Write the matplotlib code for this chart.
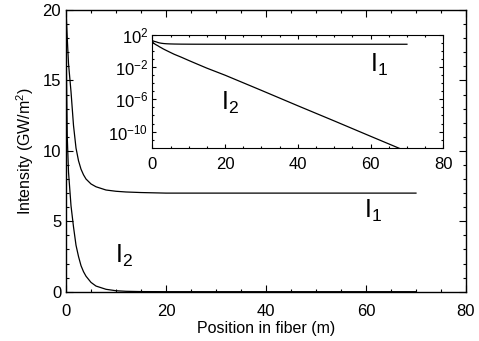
import numpy as np
import matplotlib
matplotlib.use('Agg')
import matplotlib.pyplot as plt
from matplotlib.ticker import MultipleLocator, FixedLocator

plt.rcParams['font.family'] = ['Liberation Sans', 'DejaVu Sans']
plt.rcParams['mathtext.default'] = 'regular'

# Values
position = [0, 0.25, 0.5, 1, 1.5, 2, 2.5, 3, 3.5, 4, 5, 6, 8, 10, 12, 15,
            20, 30, 40, 50, 60, 70]
intensity_1 = [20, 18, 16.2, 14.2, 11.8, 10.2, 9.3, 8.7, 8.3, 8.0, 7.65, 7.45,
               7.22, 7.13, 7.08, 7.04, 7.0, 7.0, 7.0, 7.0, 7.0, 7.0]
intensity_2 = [18, 11, 8.5, 6.1, 4.6, 3.3, 2.5, 1.85, 1.42, 1.1, 0.66, 0.4,
               0.17, 0.068, 0.028, 7.5e-3, 1.0e-3, 1.3e-5, 1.6e-7, 2.1e-9,
               2.6e-11, 3.3e-13]

main_xticks = [0, 20, 40, 60, 80]
main_yticks = [0, 5, 10, 15, 20]
inset_yticks = [1e2, 1e-2, 1e-6, 1e-10]
inset_ylabels = ['10$^{2}$', '10$^{-2}$', '10$^{-6}$', '10$^{-10}$']

W, H = 479, 341
fig = plt.figure(figsize=(W / 100, H / 100), dpi=100)


def px_text(x, y, s):
    # place a label at pixel position (from top-left corner)
    fig.text(x / W, 1 - y / H, s, fontsize=18, ha='left', va='baseline')


# Main axes
ax = fig.add_axes([0.1378, 0.1446, 0.835, 0.826])
ax.plot(position, intensity_1, color='black', lw=0.9)
ax.plot(position, intensity_2, color='black', lw=0.9)
ax.set_xlim(0, 80)
ax.set_ylim(0, 20)
ax.set_xticks(main_xticks)
ax.set_yticks(main_yticks)
ax.xaxis.set_minor_locator(MultipleLocator(5))
ax.yaxis.set_minor_locator(MultipleLocator(1))
ax.tick_params(which='both', direction='in', top=True, right=True, width=0.8)
ax.tick_params(which='major', length=5)
ax.tick_params(which='minor', length=2.5)
ax.tick_params(axis='x', labelsize=12, pad=9)
ax.tick_params(axis='y', labelsize=12, pad=3.5)
ax.set_xlabel('Position in fiber (m)', fontsize=11.5, labelpad=1)
ax.set_ylabel('Intensity (GW/m$^2$)', fontsize=11.5, labelpad=5)
for s in ax.spines.values():
    s.set_linewidth(1.0)

# Inset axes (log scale)
ins = fig.add_axes([0.318, 0.567, 0.6075, 0.3305])
ins.plot(position, intensity_1, color='black', lw=0.9)
ins.plot(position, intensity_2, color='black', lw=0.9)
ins.set_yscale('log')
ins.set_xlim(0, 79)
ins.set_ylim(1e-12, 1e2)
ins.set_xticks(main_xticks)
ins.set_yticks(inset_yticks)
ins.set_yticklabels(inset_ylabels)
ins.xaxis.set_minor_locator(MultipleLocator(5))
ins.yaxis.set_minor_locator(FixedLocator([10.0 ** k for k in range(-12, 3)]))
ins.yaxis.set_minor_formatter(plt.NullFormatter())
ins.tick_params(which='both', direction='in', top=True, right=True, width=0.8)
ins.tick_params(which='major', length=3)
ins.tick_params(which='minor', length=1.5)
ins.tick_params(axis='x', labelsize=12, pad=7)
ins.tick_params(axis='y', labelsize=12, pad=3)

# Curve labels
px_text(364, 218, 'I$_1$')
px_text(115, 263, 'I$_2$')
px_text(370, 72, 'I$_1$')
px_text(221, 110, 'I$_2$')

fig.savefig('out.png', dpi=100)
